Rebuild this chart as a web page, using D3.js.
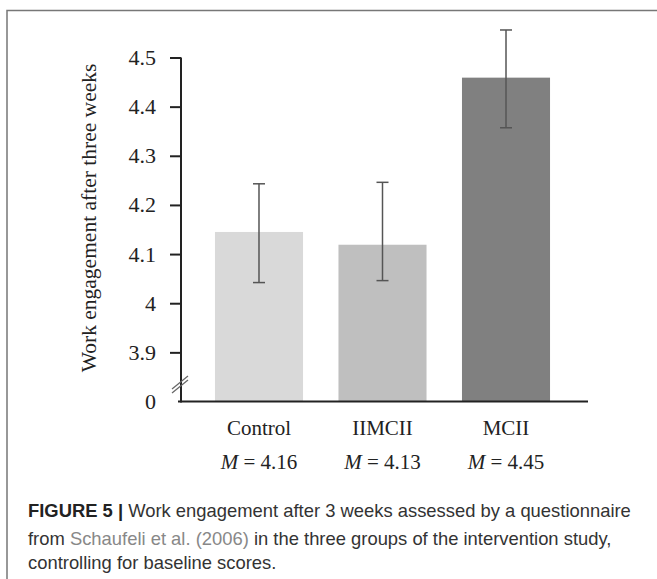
<!DOCTYPE html>
<html>
<head>
<meta charset="utf-8">
<script src="https://cdn.jsdelivr.net/npm/d3@7"></script>
<style>
  body { margin: 0; background: #fff; }
  svg { display: block; }
</style>
</head>
<body>
<div id="chart"></div>
<script>
// values
var groups = ["Control", "IIMCII", "MCII"];
var means = [4.145, 4.119, 4.459];
var errLow = [4.042, 4.046, 4.357];
var errHigh = [4.243, 4.246, 4.556];
var meanLabels = ["4.16", "4.13", "4.45"];
var barColors = ["#d9d9d9", "#bfbfbf", "#808080"];
var tickValues = [3.8, 3.9, 4, 4.1, 4.2, 4.3, 4.4, 4.5];

var W = 657, H = 579;

var svg = d3.select("#chart")
  .append("svg")
    .attr("width", W)
    .attr("height", H);

svg.append("rect").attr("width", W).attr("height", H).attr("fill", "#fff");

// frame (top + left)
svg.append("path")
  .attr("d", "M7,579V10.5H657")
  .attr("fill", "none")
  .attr("stroke", "#777")
  .attr("stroke-width", 1.5);

var x = d3.scaleBand()
  .domain(groups)
  .range([181, 584])
  .paddingInner(0.287)
  .paddingOuter(0.275);

var y = d3.scaleLinear()
  .domain([3.8, 4.5])
  .range([401.5, 57.5]);

var serif = "'Liberation Serif', 'Times New Roman', serif";

// bars
svg.selectAll(".bar")
  .data(groups)
  .enter().append("rect")
    .attr("x", function(d) { return x(d); })
    .attr("y", function(d, i) { return y(means[i]); })
    .attr("width", x.bandwidth())
    .attr("height", function(d, i) { return y(3.8) - y(means[i]); })
    .attr("fill", function(d, i) { return barColors[i]; });

// error bars
var eb = svg.selectAll(".err")
  .data(groups)
  .enter().append("g")
    .attr("stroke", "#555")
    .attr("stroke-width", 1.5)
    .attr("fill", "none");
eb.append("line")
  .attr("x1", function(d) { return x(d) + x.bandwidth() / 2; })
  .attr("x2", function(d) { return x(d) + x.bandwidth() / 2; })
  .attr("y1", function(d, i) { return y(errLow[i]); })
  .attr("y2", function(d, i) { return y(errHigh[i]); });
eb.append("line")
  .attr("x1", function(d) { return x(d) + x.bandwidth() / 2 - 6; })
  .attr("x2", function(d) { return x(d) + x.bandwidth() / 2 + 6; })
  .attr("y1", function(d, i) { return y(errHigh[i]); })
  .attr("y2", function(d, i) { return y(errHigh[i]); });
eb.append("line")
  .attr("x1", function(d) { return x(d) + x.bandwidth() / 2 - 6; })
  .attr("x2", function(d) { return x(d) + x.bandwidth() / 2 + 6; })
  .attr("y1", function(d, i) { return y(errLow[i]); })
  .attr("y2", function(d, i) { return y(errLow[i]); });

// Y axis
var yAxis = svg.append("g")
  .attr("transform", "translate(181,0)")
  .call(d3.axisLeft(y)
    .tickValues(tickValues)
    .tickSize(11)
    .tickPadding(14)
    .tickFormat(function(d) { return d === 3.8 ? "0" : String(d); }));
yAxis.select(".domain").remove();
yAxis.selectAll(".tick line")
  .attr("stroke", "#222")
  .attr("stroke-width", 2)
  .filter(function(d) { return d === 3.8; }).remove();
yAxis.selectAll(".tick text")
  .attr("fill", "#222")
  .style("font-family", serif)
  .style("font-size", "22px");

// axis lines
svg.append("line")
  .attr("x1", 181).attr("x2", 181)
  .attr("y1", y(4.5)).attr("y2", y(3.8) + 1)
  .attr("stroke", "#222").attr("stroke-width", 2);
svg.append("line")
  .attr("x1", 178).attr("x2", 588)
  .attr("y1", y(3.8)).attr("y2", y(3.8))
  .attr("stroke", "#222").attr("stroke-width", 2);

// break marks
[0, 4].forEach(function(off) {
  svg.append("line")
    .attr("x1", 172).attr("y1", y(3.85) + 12 + off)
    .attr("x2", 188).attr("y2", y(3.85) - 1 + off)
    .attr("stroke", "#666").attr("stroke-width", 1.2);
});

// group labels
svg.selectAll(".glabel")
  .data(groups)
  .enter().append("text")
    .attr("x", function(d) { return x(d) + x.bandwidth() / 2; })
    .attr("y", 435)
    .attr("text-anchor", "middle")
    .style("font-family", serif)
    .style("font-size", "21px")
    .attr("fill", "#222")
    .text(function(d) { return d; });

var ml = svg.selectAll(".mlabel")
  .data(groups)
  .enter().append("text")
    .attr("x", function(d) { return x(d) + x.bandwidth() / 2; })
    .attr("y", 469)
    .attr("text-anchor", "middle")
    .style("font-family", serif)
    .style("font-size", "21px")
    .attr("fill", "#222");
ml.append("tspan").style("font-style", "italic").text("M");
ml.append("tspan").text(function(d, i) { return " = " + meanLabels[i]; });

// Y axis title
svg.append("text")
  .attr("transform", "translate(96,218) rotate(-90)")
  .attr("text-anchor", "middle")
  .style("font-family", serif)
  .style("font-size", "21.5px")
  .attr("fill", "#222")
  .text("Work engagement after three weeks");

// caption
var sans = "'Liberation Sans', Arial, sans-serif";
var cap = svg.append("g")
  .style("font-family", sans)
  .style("font-size", "18.4px")
  .attr("fill", "#333");
var l1 = cap.append("text").attr("x", 28).attr("y", 517);
l1.append("tspan").style("font-weight", "bold").attr("fill", "#222").text("FIGURE 5 | ");
l1.append("tspan").text("Work engagement after 3 weeks assessed by a questionnaire");
var l2 = cap.append("text").attr("x", 28).attr("y", 545);
l2.append("tspan").text("from ");
l2.append("tspan").attr("fill", "#888").text("Schaufeli et al. (2006)");
l2.append("tspan").text(" in the three groups of the intervention study,");
cap.append("text").attr("x", 28).attr("y", 569).text("controlling for baseline scores.");
</script>
</body>
</html>
